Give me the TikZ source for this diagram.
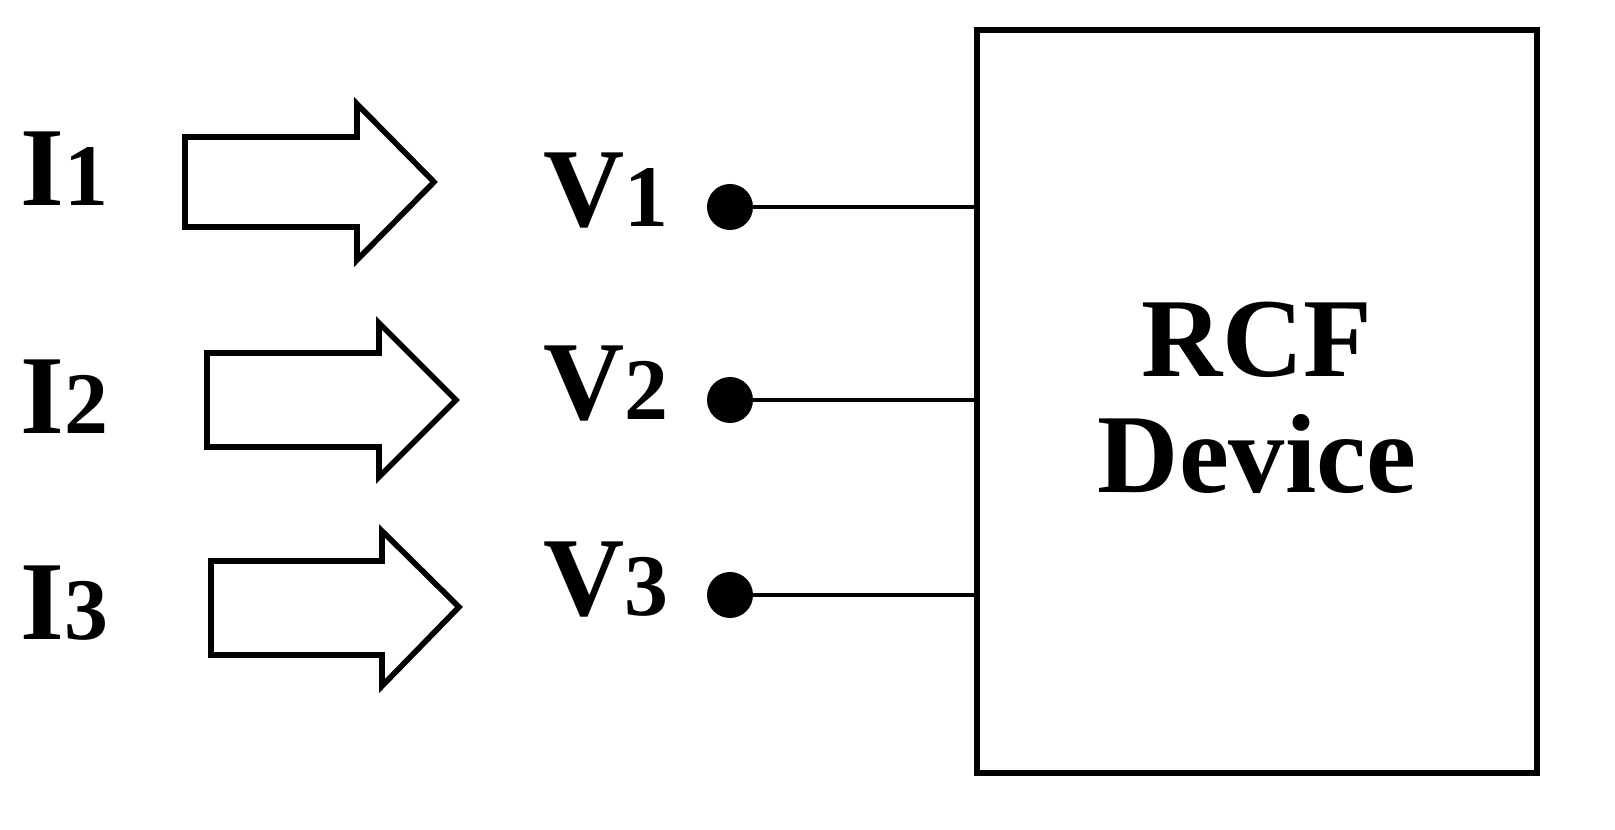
\documentclass[tikz,border=0pt]{standalone}
\usepackage{fontspec}
\setmainfont{Liberation Serif}[BoldFont={Liberation Serif Bold}]
\begin{document}
\begin{tikzpicture}[x=0.02cm,y=-0.02cm,
  lw/.style={line width=3.2pt,line join=miter},
  big/.style={font=\fontsize{64}{70}\selectfont\bfseries,inner sep=0},
  dot/.style={circle,fill=black,minimum size=46*0.02cm,inner sep=0}]
\useasboundingbox (0,0) rectangle (1615,830);
\node[draw,lw,minimum width=560*0.02cm,minimum height=743*0.02cm,inner sep=0] (box) at (1257,401.5) {};
\node[big,align=center] (t) at (1257,398) {RCF\\[-4pt]Device};
\foreach \i/\l/\t/\b/\h/\ht/\hb/\tx/\ty/\vy/\iy in {1/185/137/227/357/104/260/434/182/207/172,2/207/353/447/379/323/477/456/400/400/400,3/211/561/655/382/531/686/459/607/595/605}{
  \draw[lw] (\l,\t) -- (\h,\t) -- (\h,\ht) -- (\tx,\ty) -- (\h,\hb) -- (\h,\b) -- (\l,\b) -- cycle;
  \node[big,anchor=base west] (I\i) at (20,\iy+34) {I\fontsize{50}{50}\selectfont\i};
  \node[big,anchor=base west] (V\i) at (543,\vy+20) {V\fontsize{50}{50}\selectfont\i};
  \node[dot] (d\i) at (730,\vy) {};
  \coordinate (e\i) at (977,\vy);
  \draw[line width=2.6pt] (d\i) -- (e\i);
}
\end{tikzpicture}
\end{document}
